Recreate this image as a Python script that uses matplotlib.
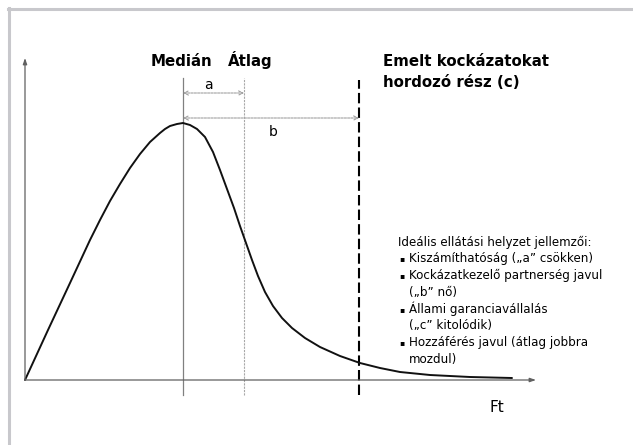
import matplotlib.pyplot as plt

# skewed distribution (x = Ft, y = frequency)
curve_x = [0, 23, 45, 65, 75, 85, 95, 105, 115, 125, 135, 140, 145, 152, 158,
           165, 172, 180, 188, 195, 202, 209, 215, 221, 227, 233, 240, 248, 257,
           267, 280, 295, 315, 335, 355, 375, 405, 445, 487]
curve_y = [0, 50, 97, 140, 160, 179, 196, 212, 226, 238, 247, 251, 254, 256, 257,
           255, 251, 243, 228, 210, 191, 172, 154, 137, 120, 104, 88, 74, 62,
           52, 42, 33, 24, 17, 12, 8, 5, 3, 2]

median_x = 158
mean_x = 219
risk_x = 334

head_labels = ['Medián', 'Átlag']
risk_label = ['Emelt kockázatokat', 'hordozó rész (c)']
box_title = 'Ideális ellátási helyzet jellemzői:'
box_items = [
    ('▪', 'Kiszámíthatóság („a” csökken)'),
    ('▪', 'Kockázatkezelő partnerség javul'),
    ('', '(„b” nő)'),
    ('▪', 'Állami garanciavállalás'),
    ('', '(„c” kitolódik)'),
    ('▪', 'Hozzáférés javul (átlag jobbra'),
    ('', 'mozdul)'),
]

plt.rcParams['font.family'] = 'DejaVu Sans'

fig = plt.figure(figsize=(6.33, 4.45), dpi=100)
ax = fig.add_axes([0, 0, 1, 1])
ax.set_xlim(-25, 608)
ax.set_ylim(-65, 380)
ax.axis('off')

# frame (only top and left edges show)
ax.plot([-17, 620], [371, 371], color='#c8c8cc', lw=2.2, clip_on=False)
ax.plot([-16, -16], [372, -70], color='#c8c8cc', lw=2.2, clip_on=False)

# axes with arrows
ax.annotate('', xy=(0, 322), xytext=(0, 0),
            arrowprops=dict(arrowstyle='-|>,head_length=0.35,head_width=0.12',
                            color='#606060', lw=0.9, shrinkA=0, shrinkB=0))
ax.annotate('', xy=(511, 0), xytext=(0, 0),
            arrowprops=dict(arrowstyle='-|>,head_length=0.35,head_width=0.12',
                            color='#606060', lw=0.9, shrinkA=0, shrinkB=0))

# vertical markers
ax.plot([median_x, median_x], [-15, 302], color='#808080', lw=0.9)
ax.plot([mean_x, mean_x], [-15, 302], color='#a8a8a8', lw=0.8, ls=(0, (2, 1)))
ax.plot([risk_x, risk_x], [-15, 300], color='black', lw=1.5, ls=(0, (5, 2)))

# the curve
ax.plot(curve_x, curve_y, color='#111111', lw=1.4, solid_capstyle='round',
        solid_joinstyle='round')

# a / b distance arrows
for y, x1 in [(287, mean_x), (262, risk_x)]:
    ax.annotate('', xy=(x1, y), xytext=(median_x, y),
                arrowprops=dict(arrowstyle='<->,head_length=0.3,head_width=0.15',
                                color='#a0a0a0', lw=0.8, ls=(0, (2, 1)),
                                shrinkA=0, shrinkB=0))
ax.text(183, 295, 'a', ha='center', va='center', fontsize=10)
ax.text(248, 248, 'b', ha='center', va='center', fontsize=10)

# headings
ax.text(156, 314, head_labels[0], ha='center', va='baseline', fontsize=10.8, fontweight='bold')
ax.text(225, 314, head_labels[1], ha='center', va='baseline', fontsize=10.8, fontweight='bold')
for i, line in enumerate(risk_label):
    ax.text(358, 314 - 21 * i, line, ha='left', va='baseline', fontsize=10.8,
            fontweight='bold')

ax.text(472, -28, 'Ft', ha='center', va='center', fontsize=11)

# text box
ax.text(373, 138, box_title, ha='left', va='center', fontsize=8.6)
for i, (bullet, line) in enumerate(box_items):
    y = 138 - 16.8 * (i + 1)
    if bullet:
        ax.text(374, y, bullet, ha='left', va='center', fontsize=5.5)
    ax.text(384, y, line, ha='left', va='center', fontsize=8.6)

fig.savefig('out.png', dpi=100)
